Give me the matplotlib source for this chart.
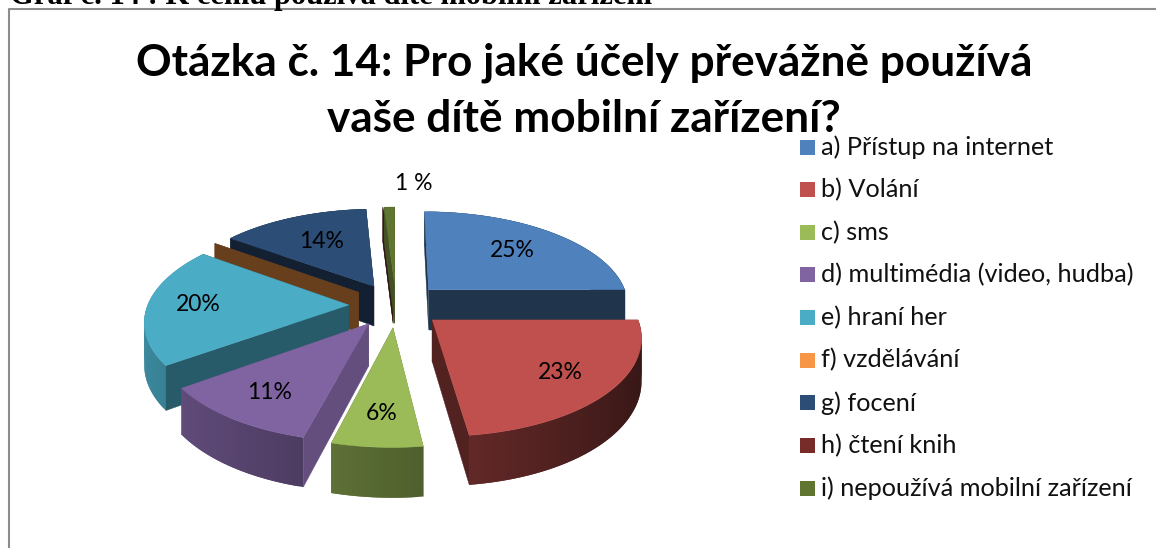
import numpy as np
import matplotlib
matplotlib.use("Agg")
import matplotlib.pyplot as plt
from matplotlib.colors import to_rgb

# ==========================================
# DATA
# ==========================================
categories = [
    "a) Přístup na internet",
    "b) Volání",
    "c) sms",
    "d) multimédia (video, hudba)",
    "e) hraní her",
    "f) vzdělávání",
    "g) focení",
    "h) čtení knih",
    "i) nepoužívá mobilní zařízení",
]
values = [25, 23, 6, 11, 20, 0, 14, 0, 1]
value_labels = ["25%", "23%", "6%", "11%", "20%", "", "14%", "", "1 %"]
colors = ["#4f81bd", "#c0504d", "#9bbb59", "#8064a2", "#4bacc6",
          "#f79646", "#2c4d75", "#772c2a", "#5f7530"]

title = "Otázka č. 14: Pro jaké účely převážně používá\nvaše dítě mobilní zařízení?"
caption = "Graf č. 14 : K čemu používá dítě mobilní zařízení"

# ==========================================
# PIE PROJECTION
# ==========================================
CX, CY = 396, 305
RX, RY = 201, 94
PERSP = 0.15
DEPTH = 41
EXPLODE = 0.235


def project(u, v, z=0.0):
    f = 1 / (1 + PERSP * v)
    return CX + RX * u * f, CY - RY * v * f + z * DEPTH * f


def shade(color, factor):
    return tuple(c * factor for c in to_rgb(color))


def rim_factor(angle):
    return 0.54 - 0.26 * np.cos(angle)


def draw_walls(a0, a1, ou, ov, wall):
    for ang in (a0, a1):
        us = [ou, ou + np.cos(ang)]
        vs = [ov, ov + np.sin(ang)]
        x0, y0 = project(us[0], vs[0])
        x1, y1 = project(us[1], vs[1])
        x2, y2 = project(us[1], vs[1], 1)
        x3, y3 = project(us[0], vs[0], 1)
        ax.fill([x0, x1, x2, x3], [y0, y1, y2, y3], color=wall, lw=0.3)


def draw_rim(a0, a1, ou, ov, color, value):
    # each strip runs under the next one so no seams show
    angles = np.linspace(a0, a1, max(int(value) * 3, 4))
    step = angles[1] - angles[0]
    for b0 in angles[:-1]:
        b1 = max(b0 + 2 * step, a1)
        arc = np.linspace(b0, b1, 5)
        xs0, ys0 = project(ou + np.cos(arc), ov + np.sin(arc))
        xs1, ys1 = project(ou + np.cos(arc), ov + np.sin(arc), 1)
        col = shade(color, rim_factor(b0 + step / 2))
        ax.fill(np.r_[xs0, xs1[::-1]], np.r_[ys0, ys1[::-1]], color=col, lw=0)


fig = plt.figure(figsize=(11.56, 5.48), dpi=100)
ax = fig.add_axes([0, 0, 1, 1])
ax.set_xlim(0, 1156)
ax.set_ylim(548, 0)
ax.axis("off")

# slice angles, clockwise from the top
fractions = np.array(values) / sum(values)
ends = np.pi / 2 - 2 * np.pi * np.cumsum(fractions)
starts = ends + 2 * np.pi * fractions
mids = (starts + ends) / 2

wall_factor = [0.40, 0.42, 0.65, 0.78, 0.53, 0.42, 0.42, 0.40, 0.70]
label_r = [0.66, 0.75, 0.75, 0.75, 0.75, 0.75, 0.62, 0.75, 0.75]

# far slices first, near slices on top
draw_order = [6, 7, 8, 0, 5, 4, 3, 2, 1]

for i in draw_order:
    a0, a1, mid = starts[i], ends[i], mids[i]
    ou = EXPLODE * np.cos(mid)
    ov = EXPLODE * np.sin(mid)
    wall = shade(colors[i], wall_factor[i])

    if values[i] == 0:
        draw_walls(a0, a1, ou, ov, wall)
        continue

    # near slices show the rim in front, far slices show the walls in front
    if np.sin(mid) < -0.01:
        draw_walls(a0, a1, ou, ov, wall)
        draw_rim(a0, a1, ou, ov, colors[i], values[i])
    else:
        draw_rim(a0, a1, ou, ov, colors[i], values[i])
        draw_walls(a0, a1, ou, ov, wall)

    # top surface
    arc = np.linspace(a0, a1, 60)
    us = np.r_[ou, ou + np.cos(arc)]
    vs = np.r_[ov, ov + np.sin(arc)]
    xs, ys = project(us, vs)
    ax.fill(xs, ys, color=colors[i], lw=0.3)

# ==========================================
# TEXT
# ==========================================
for i, label in enumerate(value_labels):
    if label == "" or values[i] < 2:
        continue
    ou = (EXPLODE + label_r[i]) * np.cos(mids[i])
    ov = (EXPLODE + label_r[i]) * np.sin(mids[i])
    x, y = project(ou, ov)
    ax.text(x, y, label, fontsize=16.5, family="Lato", ha="center", va="center", color="black")

ax.text(414, 183, value_labels[8], fontsize=16.5, family="Lato", ha="center", va="center", color="black")

ax.text(10, 4, caption, fontsize=22, family="Liberation Serif", weight="bold",
        ha="left", va="baseline", color="black", clip_on=True)

# frame of the embedded chart
ax.plot([9, 9, 1156], [548, 9, 9], color="#8c8c8c", lw=1.5)

ax.text(584, 91, title, fontsize=31.8, family="Lato", weight="bold",
        ha="center", va="center", linespacing=1.47, color="black")

# ==========================================
# LEGEND
# ==========================================
legend_y = np.linspace(147, 488, len(categories))
for name, col, y in zip(categories, colors, legend_y):
    ax.fill([800, 815, 815, 800], [y - 7.5, y - 7.5, y + 7.5, y + 7.5], color=col, lw=0)
    ax.text(821, y, name, fontsize=18.2, family="Lato", ha="left", va="center", color="#111111")

fig.savefig("out.png", dpi=100)
